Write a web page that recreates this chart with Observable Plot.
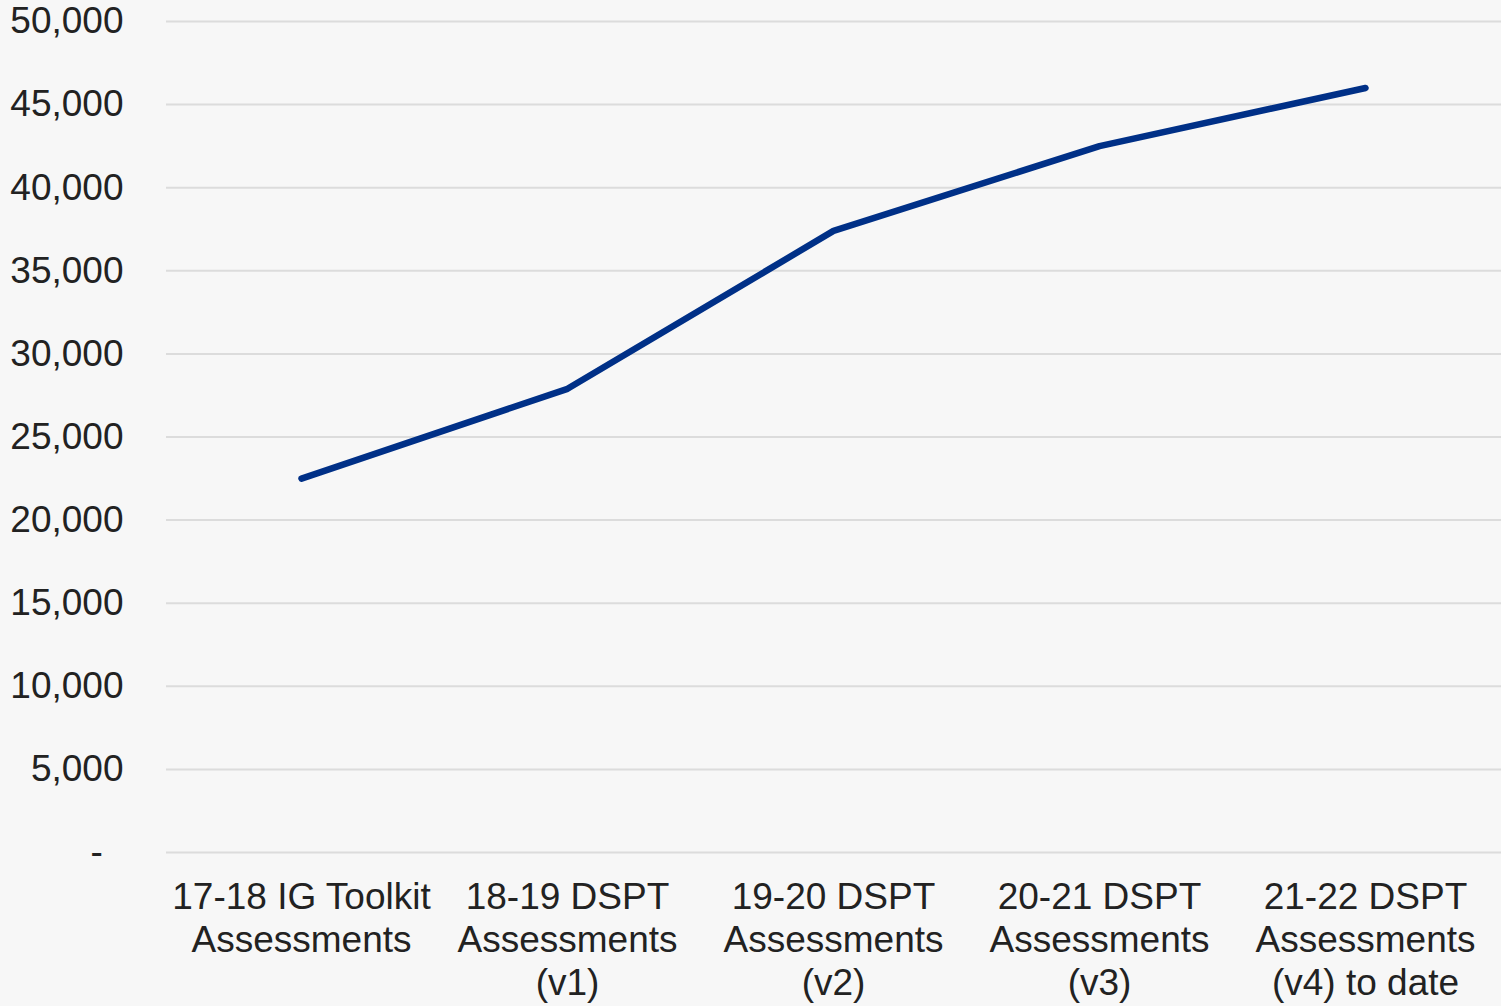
<!DOCTYPE html>
<html>
<head>
<meta charset="utf-8">
<script src="https://cdn.jsdelivr.net/npm/d3@7"></script>
<script src="https://cdn.jsdelivr.net/npm/@observablehq/plot@0.6"></script>
<style>
  html, body { margin: 0; padding: 0; background: #f7f7f7; }
  #chart svg { display: block; }
</style>
</head>
<body>
<div id="chart"></div>
<script>
const categories = [
  "17-18 IG Toolkit\nAssessments",
  "18-19 DSPT\nAssessments\n(v1)",
  "19-20 DSPT\nAssessments\n(v2)",
  "20-21 DSPT\nAssessments\n(v3)",
  "21-22 DSPT\nAssessments\n(v4) to date"
];
const values = [22500, 27900, 37400, 42500, 46000];
const yTicks = [0, 5000, 10000, 15000, 20000, 25000, 30000, 35000, 40000, 45000, 50000];

const data = categories.map((c, i) => ({cat: c, value: values[i]}));
const fmt = d3.format(",");

const chart = Plot.plot({
  width: 1501,
  height: 1006,
  marginLeft: 166,
  marginRight: 0,
  marginTop: 21,
  marginBottom: 154,
  style: {background: "#f7f7f7", fontFamily: "'Liberation Sans', Arial, sans-serif", color: "#222"},
  x: {type: "point", domain: categories, range: [166, 1499], padding: 0.5},
  y: {domain: [0, 50000]},
  marks: [
    Plot.gridY(yTicks, {stroke: "#dcdcdc", strokeOpacity: 1, strokeWidth: 2}),
    Plot.axisY(yTicks, {
      tickSize: 0, tickPadding: 43, fontSize: 37, fill: "#222",
      tickFormat: d => d === 0 ? "-\u2007" : fmt(d), label: null
    }),
    Plot.axisX({
      tickSize: 0, tickPadding: 26, fontSize: 37, fill: "#222",
      lineHeight: 1.16, label: null, tickFormat: d => d
    }),
    Plot.line(data, {x: "cat", y: "value", stroke: "#003087", strokeWidth: 6.5, strokeLinecap: "round", strokeLinejoin: "round"})
  ]
});
document.getElementById("chart").appendChild(chart);
</script>
</body>
</html>
